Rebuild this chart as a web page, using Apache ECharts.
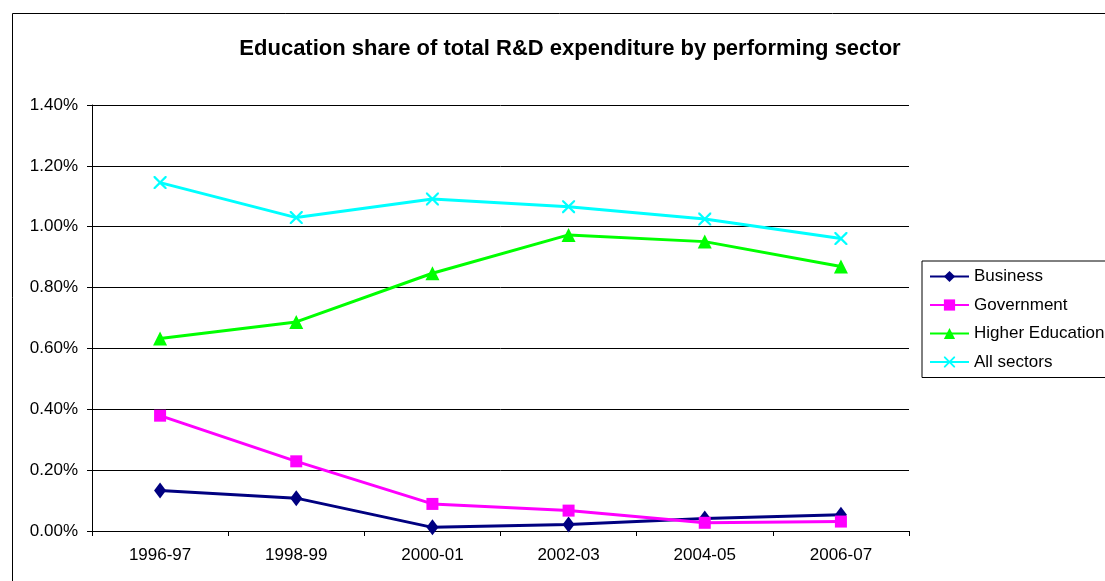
<!DOCTYPE html>
<html>
<head>
<meta charset="utf-8">
<script src="https://cdn.jsdelivr.net/npm/echarts@6/dist/echarts.min.js"></script>
<style>
  html, body { margin: 0; padding: 0; background: #fff; }
  #chart { width: 1105px; height: 581px; }
</style>
</head>
<body>
<div id="chart"></div>
<script>
// values in percent of total R&D expenditure
var years = ['1996-97', '1998-99', '2000-01', '2002-03', '2004-05', '2006-07'];
var business = [0.133, 0.108, 0.012, 0.021, 0.041, 0.053];
var government = [0.379, 0.229, 0.089, 0.067, 0.027, 0.031];
var higherEd = [0.633, 0.687, 0.847, 0.973, 0.951, 0.869];
var allSectors = [1.145, 1.030, 1.091, 1.066, 1.025, 0.961];

var crossPath = 'path://M0,0 L1.2,0 L5,3.8 L8.8,0 L10,0 L10,1.2 L6.2,5 L10,8.8 L10,10 L8.8,10 L5,6.2 L1.2,10 L0,10 L0,8.8 L3.8,5 L0,1.2 Z';
var font = 'Liberation Sans, Arial, sans-serif';

var myChart = echarts.init(document.getElementById('chart'));

function line(name, data, color, symbol, size) {
  return {
    name: name,
    type: 'line',
    data: data,
    symbol: symbol,
    symbolSize: size,
    lineStyle: { color: color, width: 3 },
    itemStyle: { color: color },
    z: 3
  };
}

var option = {
  animation: false,
  backgroundColor: '#fff',
  title: {
    text: 'Education share of total R&D expenditure by performing sector',
    left: 565,
    textAlign: 'center',
    top: 33,
    textStyle: { fontFamily: font, fontSize: 22, fontWeight: 'bold', color: '#000' }
  },
  graphic: [{
    type: 'rect',
    shape: { x: 12.5, y: 13.5, width: 1110, height: 600 },
    style: { fill: null, stroke: '#000', lineWidth: 1 },
    silent: true
  }],
  legend: {
    orient: 'vertical',
    left: 922,
    top: 261,
    padding: 7,
    itemWidth: 39,
    itemHeight: 14,
    itemGap: 11.5,
    borderColor: '#000',
    borderWidth: 1,
    textStyle: { fontFamily: font, fontSize: 17, color: '#000' },
    data: ['Business', 'Government', 'Higher Education', 'All sectors']
  },
  grid: {
    left: 92,
    right: 196,
    top: 105,
    bottom: 50,
    containLabel: false
  },
  xAxis: {
    type: 'category',
    data: years,
    boundaryGap: true,
    axisLine: { lineStyle: { color: '#000', width: 1 } },
    axisTick: { show: true, length: 5, lineStyle: { color: '#000' } },
    axisLabel: { fontFamily: font, fontSize: 17, color: '#000', margin: 16 }
  },
  yAxis: {
    type: 'value',
    min: 0,
    max: 1.4,
    interval: 0.2,
    axisLine: { show: true, lineStyle: { color: '#000', width: 1 } },
    axisTick: { show: true, length: 5, lineStyle: { color: '#000' } },
    splitLine: { lineStyle: { color: '#000', width: 1 } },
    axisLabel: {
      fontFamily: font,
      fontSize: 17,
      color: '#000',
      margin: 14,
      formatter: function (v) { return v.toFixed(2) + '%'; }
    }
  },
  series: [
    line('Business', business, '#000080', 'diamond', [12, 16]),
    line('Government', government, '#ff00ff', 'rect', 12),
    line('Higher Education', higherEd, '#00ff00', 'triangle', 14),
    line('All sectors', allSectors, '#00ffff', crossPath, 13)
  ]
};

myChart.setOption(option);
</script>
</body>
</html>
